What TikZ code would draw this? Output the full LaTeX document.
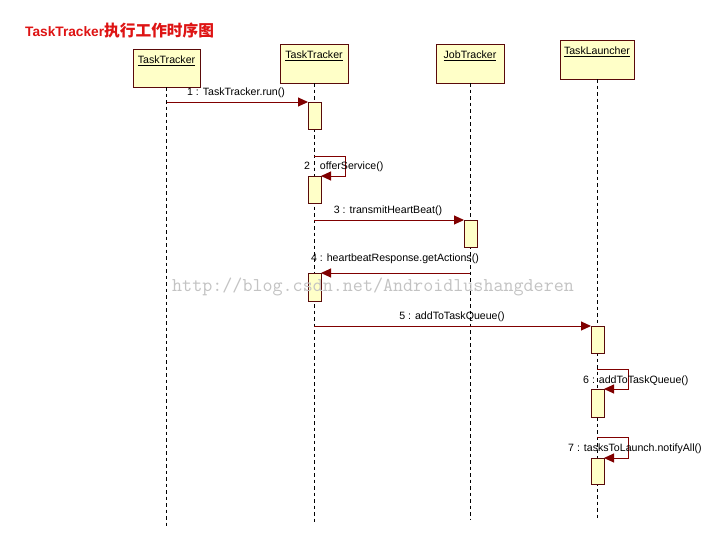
\documentclass[tikz,border=0pt]{standalone}
\usepackage{fontspec}
\setmainfont{Liberation Sans}
\newfontfamily\cjkfont{Noto Sans CJK SC}
\usetikzlibrary{arrows.meta}
\definecolor{boxfill}{RGB}{255,255,200}
\definecolor{boxbrd}{RGB}{90,10,10}
\definecolor{msgred}{RGB}{128,0,0}
\definecolor{titlered}{RGB}{222,20,20}
\definecolor{wmgray}{RGB}{195,195,195}
\tikzset{
  obj/.style={draw=boxbrd, fill=boxfill, line width=1pt, inner sep=0pt, outer sep=0pt, anchor=north west},
  objlabel/.style={font=\fontsize{10.6}{12}\selectfont, inner sep=0pt, anchor=north},
  act/.style={draw=boxbrd, fill=boxfill, line width=1pt, inner sep=0pt, outer sep=0pt, anchor=north west, minimum width=13pt},
  lifeline/.style={draw=black, line width=0.9pt, dash pattern=on 3.5pt off 3pt},
  msg/.style={draw=msgred, line width=1pt, -{Triangle[length=10pt,width=9pt]}},
  msglabel/.style={font=\fontsize{10.6}{12}\selectfont, inner sep=0pt},
  wm/.style={font=\ttfamily\fontsize{19.5}{20}\selectfont, text=wmgray, inner sep=0pt},
}
\begin{document}
\begin{tikzpicture}[x=1pt,y=-1pt]
\useasboundingbox (0,0) rectangle (725,552);
\fill[white] (0,0) rectangle (725,552);
% title
\node[anchor=west, text=titlered, inner sep=0pt] (title) at (25,31)
  {\bfseries\fontsize{13.7}{16}\selectfont TaskTracker{\cjkfont\fontsize{15.7}{16}\selectfont 执行工作时序图}};
% objects
\node[obj, minimum width=67pt, minimum height=38pt] (b1) at (133,49) {};
\node[obj, minimum width=68pt, minimum height=39pt] (b2) at (280,44) {};
\node[obj, minimum width=68pt, minimum height=39pt] (b3) at (436,44) {};
\node[obj, minimum width=74pt, minimum height=39pt] (b4) at (560,40) {};
\node[objlabel] (l1) at ([yshift=-7pt]b1.north) {\underline{TaskTracker}};
\node[objlabel] (l2) at ([yshift=-7pt]b2.north) {\underline{TaskTracker}};
\node[objlabel] (l3) at ([yshift=-7pt]b3.north) {\underline{JobTracker}};
\node[objlabel] (l4) at ([yshift=-7pt]b4.north) {\underline{TaskLauncher}};
% lifeline ends
\coordinate (e1) at (166.5,529);
\coordinate (e2) at (314,524);
\coordinate (e3) at (470,519);
\coordinate (e4) at (597,521);
\draw[lifeline] (b1.south) -- (e1);
\draw[lifeline] (b2.south) -- (e2);
\draw[lifeline] (b3.south) -- (e3);
\draw[lifeline] (b4.south) -- (e4);
% activations
\node[act, minimum height=27pt] (a1) at (308,102) {};
\node[act, minimum height=27pt] (a2) at (308,176) {};
\node[act, minimum height=27pt] (a3) at (464,220) {};
\node[act, minimum height=28pt] (a4) at (308,273) {};
\node[act, minimum height=27pt] (a5) at (591,326) {};
\node[act, minimum height=28pt] (a6) at (591,389) {};
\node[act, minimum height=26pt] (a7) at (591,458) {};
% messages
\draw[msg] (b1.south |- a1.north west) -- (a1.north west);
\node[msglabel] (m1) at (236,93) {1 : TaskTracker.run()};
\draw[msg] (b2.south |- 0,156) -- (345,156) |- (a2.north east);
\node[msglabel, anchor=west] (m2) at (304,167) {2 : offerService()};
\draw[msg] (b2.south |- a3.north west) -- (a3.north west);
\node[msglabel] (m3) at (388,211) {3 : transmitHeartBeat()};
\draw[msg] (b3.south |- a4.north east) -- (a4.north east);
\node[msglabel] (m4) at (395,259) {4 : heartbeatResponse.getActions()};
\draw[msg] (b2.south |- a5.north west) -- (a5.north west);
\node[msglabel] (m5) at (452,317) {5 : addToTaskQueue()};
\draw[msg] (b4.south |- 0,369) -- (628,369) |- (a6.north east);
\node[msglabel, anchor=west] (m6) at (583,381) {6 : addToTaskQueue()};
\draw[msg] (b4.south |- 0,437) -- (628,437) |- (a7.north east);
\node[msglabel, anchor=west] (m7) at (568,449) {7 : tasksToLaunch.notifyAll()};
% watermark
\node[wm, anchor=west] (wmark) at (172,287) {http://blog.csdn.net/Androidlushangderen};
\end{tikzpicture}
\end{document}
